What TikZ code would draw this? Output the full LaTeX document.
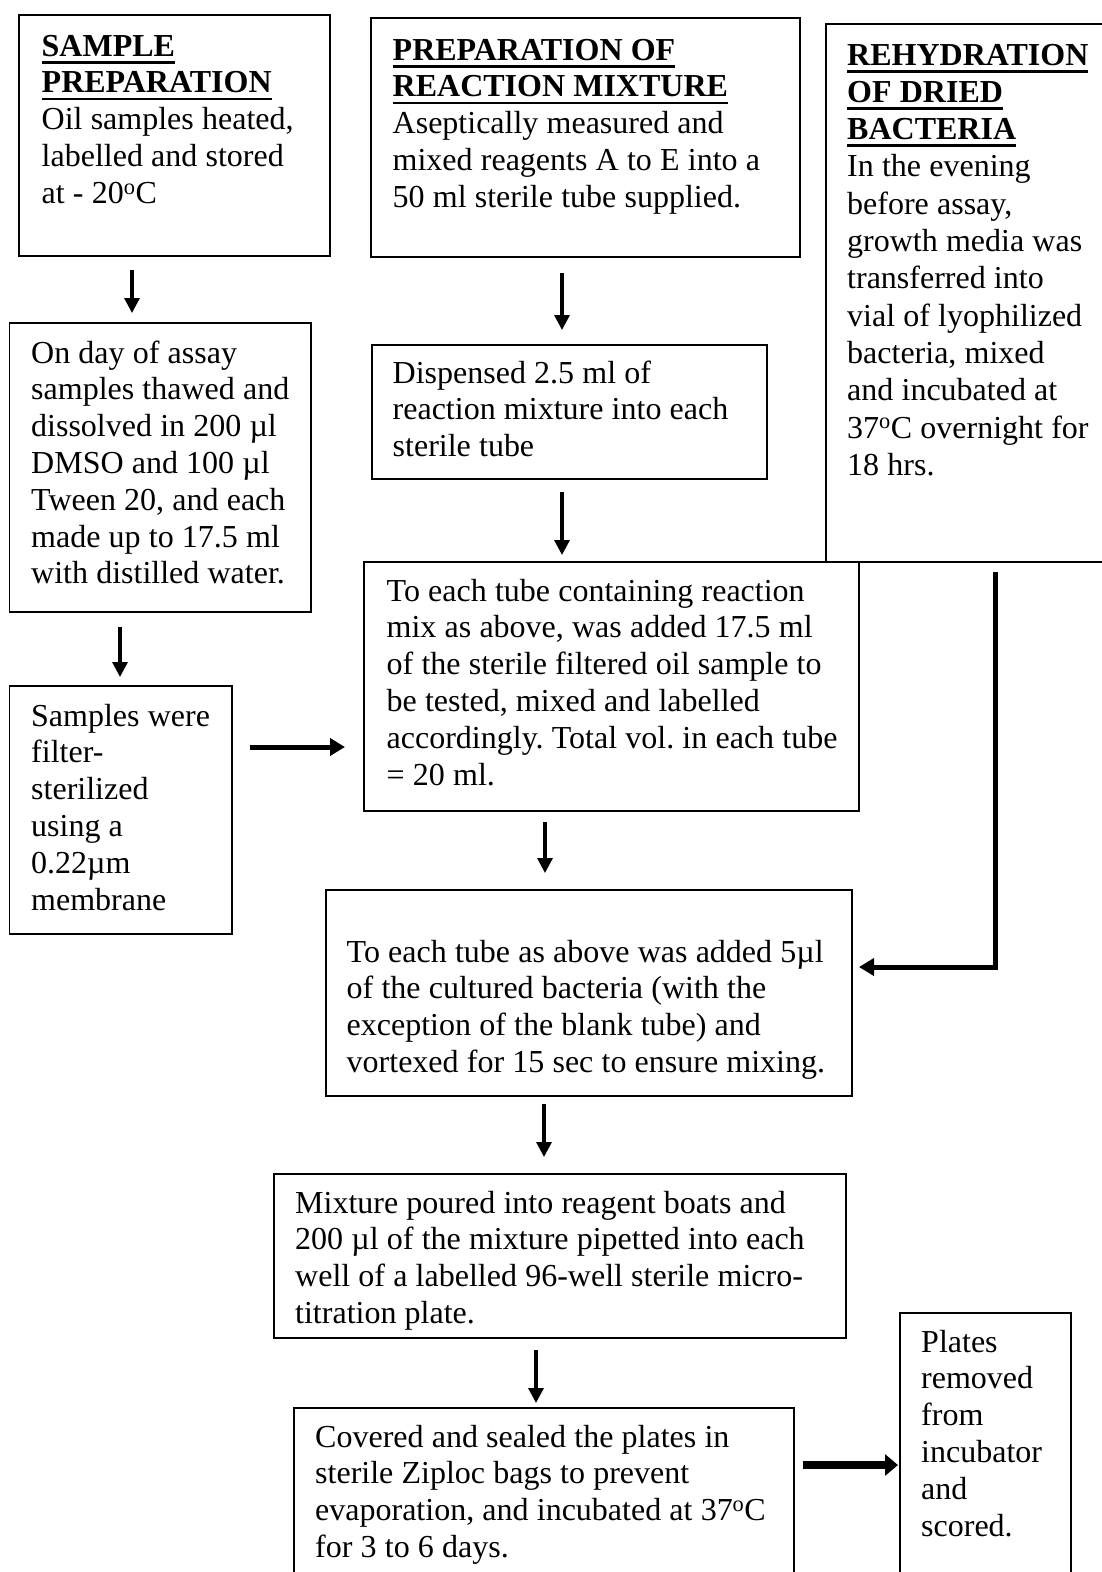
\documentclass[tikz,border=0pt]{standalone}
\usepackage{fontspec}
\setmainfont{Liberation Serif}
\usetikzlibrary{arrows.meta}
\newcommand{\ulhd}[1]{\leavevmode\setbox0=\hbox{\bfseries #1}\rlap{\rule[-7.5pt]{\wd0}{2.8pt}}\box0}
\newcommand{\txtfont}{\fontsize{32}{36.8}\selectfont}
\newcommand{\txtfontb}{\fontsize{32}{37.3}\selectfont}
\newcommand{\tx}{\frenchspacing\spaceskip=8.2pt plus 1pt minus 1pt\relax\xspaceskip=8.2pt plus 1pt\relax}
\begin{document}
\begin{tikzpicture}[x=1pt,y=-1pt,
  box/.style={draw, line width=1.6pt, inner sep=0pt, outer sep=0pt, anchor=north west},
  txt/.style={anchor=base west, align=left, inner sep=0pt, font=\txtfont},
  arr/.style={line width=3.2pt, -{Triangle[length=15pt,width=15pt]}},
  arrm/.style={line width=5pt, -{Triangle[length=15pt,width=17pt]}},
  arrb/.style={line width=8pt, -{Triangle[length=13pt,width=21pt]}}]
\useasboundingbox (0,0) rectangle (1102,1572);
\fill[white] (0,0) rectangle (1102,1572);
\clip (0,0) rectangle (1102,1572);

% boxes
\node[box, minimum width=311pt, minimum height=241pt] (b1) at (19,15) {};
\node[box, minimum width=429pt, minimum height=239pt] (b2) at (371,18) {};
\node[box, minimum width=300pt, minimum height=538pt] (b3) at (826,24) {};
\node[box, minimum width=301.5pt, minimum height=289pt] (b4) at (9.5,323) {};
\node[box, minimum width=395pt, minimum height=134pt] (b5) at (372,345) {};
\node[box, minimum width=495pt, minimum height=249pt] (b6) at (364,562) {};
\node[box, minimum width=222.5pt, minimum height=248pt] (b7) at (9.5,686) {};
\node[box, minimum width=526pt, minimum height=206pt] (b8) at (326,890) {};
\node[box, minimum width=572pt, minimum height=164pt] (b9) at (274,1174) {};
\node[box, minimum width=500pt, minimum height=190pt] (b10) at (294,1408) {};
\node[box, minimum width=171pt, minimum height=280pt] (b11) at (900,1313) {};

% texts
\node[txt, text width=284pt] (t1) at (41.5,56) {\tx\ulhd{SAMPLE}\\\ulhd{PREPARATION}\\Oil samples heated,\\labelled and stored\\at - 20\textsuperscript{o}C};
\node[txt, text width=404pt] (t2) at (392.5,60) {\tx\ulhd{PREPARATION OF}\\\ulhd{REACTION MIXTURE}\\Aseptically measured and\\mixed reagents A to E into a\\50 ml sterile tube supplied.};
\node[txt, text width=250pt, font=\txtfontb] (t3) at (847,65) {\tx\ulhd{REHYDRATION}\\\ulhd{OF DRIED}\\\ulhd{BACTERIA}\\In the evening\\before assay,\\growth media was\\transferred into\\vial of lyophilized\\bacteria, mixed\\and incubated at\\37\textsuperscript{o}C overnight for\\18 hrs.};
\node[txt, text width=277pt] (t4) at (31,363) {\tx On day of assay\\samples thawed and\\dissolved in 200 µl\\DMSO and 100 µl\\Tween 20, and each\\made up to 17.5 ml\\with distilled water.};
\node[txt, text width=371pt] (t5) at (392.5,383) {\tx Dispensed 2.5 ml of\\reaction mixture into each\\sterile tube};
\node[txt, text width=469pt] (t6) at (386.5,601) {\tx To each tube containing reaction\\mix as above, was added 17.5 ml\\of the sterile filtered oil sample to\\be tested, mixed and labelled\\accordingly. Total vol. in each tube\\= 20 ml.};
\node[txt, text width=198pt] (t7) at (31,726) {\tx Samples were\\filter-\\sterilized\\using a\\0.22µm\\membrane};
\node[txt, text width=502pt] (t8) at (346.5,962) {\tx To each tube as above was added 5µl\\of the cultured bacteria (with the\\exception of the blank tube) and\\vortexed for 15 sec to ensure mixing.};
\node[txt, text width=548pt] (t9) at (295,1213) {\tx Mixture poured into reagent boats and\\200 µl of the mixture pipetted into each\\well of a labelled 96-well sterile micro-\\titration plate.};
\node[txt, text width=476pt] (t10) at (315,1447) {\tx Covered and sealed the plates in\\sterile Ziploc bags to prevent\\evaporation, and incubated at 37\textsuperscript{o}C\\for 3 to 6 days.};
\node[txt, text width=147pt] (t11) at (921,1352) {\tx Plates\\removed\\from\\incubator\\and\\scored.};

% connector coordinates
\coordinate (c1) at (132,0);
\coordinate (c2) at (562,0);
\coordinate (c4) at (120,0);
\coordinate (c5) at (0,747);
\coordinate (c6) at (545,0);
\coordinate (k) at (995,967);
\coordinate (c8) at (544,0);
\coordinate (c9) at (536,0);
\coordinate (c10) at (0,1465);

% connectors
\draw[arr, shorten <=14pt, shorten >=10pt] (b1.south -| c1) -- (b4.north -| c1);
\draw[arr, shorten <=16pt, shorten >=15pt] (b2.south -| c2) -- (b5.north -| c2);
\draw[arr, shorten <=13pt, shorten >=7pt] (b5.south -| c2) -- (b6.north -| c2);
\draw[arr, shorten <=15pt, shorten >=9pt] (b4.south -| c4) -- (b7.north -| c4);
\draw[arrm, shorten <=18pt, shorten >=19pt] (b7.east |- c5) -- (b6.west |- c5);
\draw[arr, shorten <=11pt, shorten >=17pt] (b6.south -| c6) -- (b8.north -| c6);
\draw[arrm, shorten <=10pt, shorten >=7pt] (b3.south -| k) -- (k) -- (b8.east |- k);
\draw[arr, shorten <=8pt, shorten >=17pt] (b8.south -| c8) -- (b9.north -| c8);
\draw[arr, shorten <=12pt, shorten >=5pt] (b9.south -| c9) -- (b10.north -| c9);
\draw[arrb, shorten <=9pt, shorten >=2pt] (b10.east |- c10) -- (b11.west |- c10);
\end{tikzpicture}
\end{document}
